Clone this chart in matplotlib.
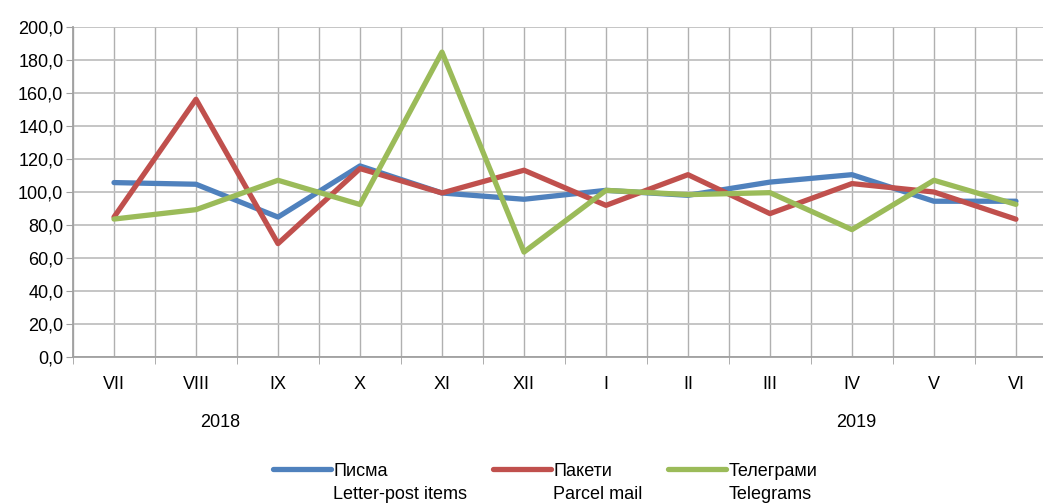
import numpy as np
import matplotlib.pyplot as plt
from matplotlib import font_manager

months = ['VII', 'VIII', 'IX', 'X', 'XI', 'XII', 'I', 'II', 'III', 'IV', 'V', 'VI']
letters = [105.7, 104.7, 84.8, 115.8, 99.4, 95.6, 101.0, 98.0, 106.0, 110.5, 94.4, 94.4]
parcels = [84.8, 156.2, 68.7, 114.2, 99.4, 113.2, 91.9, 110.5, 86.9, 105.1, 100.0, 83.5]
telegrams = [83.6, 89.3, 107.1, 92.4, 184.8, 63.6, 101.0, 98.4, 99.6, 77.2, 107.1, 92.5]
years = ['2018', '2019']
names_bg = ['Писма', 'Пакети', 'Телеграми']
names_en = ['Letter-post items', 'Parcel mail', 'Telegrams']
colors = ['#4F81BD', '#C0504D', '#9BBB59']

fams = [f.name for f in font_manager.fontManager.ttflist]
font = 'Liberation Sans Narrow' if 'Liberation Sans Narrow' in fams else 'Liberation Sans'
plt.rcParams['font.family'] = [font, 'DejaVu Sans']
plt.rcParams['font.size'] = 13

fig = plt.figure(figsize=(10.43, 5.04), dpi=100)
ax = fig.add_axes([0.07, 0.2917, 0.93, 0.6547])

x = np.arange(len(months))
lines = []
for vals, c, nm in zip([letters, parcels, telegrams], colors, names_bg):
    ln, = ax.plot(x, vals, color=c, lw=3.8, solid_capstyle='round', label=nm, zorder=3)
    lines.append(ln)

ax.set_ylim(0, 200)
ax.set_yticks(np.arange(0, 201, 20))
ax.set_yticklabels([f'{v:.1f}'.replace('.', ',') for v in np.arange(0, 201, 20)])
ax.set_xlim(-0.5, 11.33)
ax.set_xticks(x)
ax.set_xticklabels(months)
ax.set_xticks(np.arange(-0.5, 11.5, 1), minor=True)
ax.tick_params(axis='x', which='major', length=0, pad=14)
ax.tick_params(axis='x', which='minor', length=5, color='#a0a0a0')
ax.tick_params(axis='y', length=5, color='#a0a0a0', pad=2)
ax.grid(True, which='both', axis='x', color='#b0b0b0', lw=1)
ax.grid(True, axis='y', color='#c0c0c0', lw=1.3)
ax.set_axisbelow(True)
for s in ['top', 'right']:
    ax.spines[s].set_visible(False)
for s in ['left', 'bottom']:
    ax.spines[s].set_color('#a0a0a0')
    ax.spines[s].set_linewidth(1.3)

ax.text(1.3, -0.2, years[0], transform=ax.get_xaxis_transform(), ha='center', va='center')
ax.text(9.05, -0.2, years[1], transform=ax.get_xaxis_transform(), ha='center', va='center')

# one legend per series, handles start at these figure x positions
leg_x = [273 / 1043, 493 / 1043, 668 / 1043]
legs = []
for ln, nm, lx in zip(lines, names_bg, leg_x):
    lg = fig.legend(handles=[ln], labels=[nm], loc='center left', bbox_to_anchor=(lx, 1 - 471 / 504),
                    frameon=False, handlelength=3.2, handletextpad=0.15,
                    borderpad=0, borderaxespad=0, fontsize=13)
    legs.append(lg)
fig.canvas.draw()
inv = fig.transFigure.inverted()
for lg, en in zip(legs, names_en):
    bb = lg.get_texts()[0].get_window_extent()
    x0, y0 = inv.transform((bb.x0, bb.y0))
    fig.text(x0, y0 - 0.012, en, ha='left', va='top', fontsize=13)

fig.savefig('out.png', dpi=100)
